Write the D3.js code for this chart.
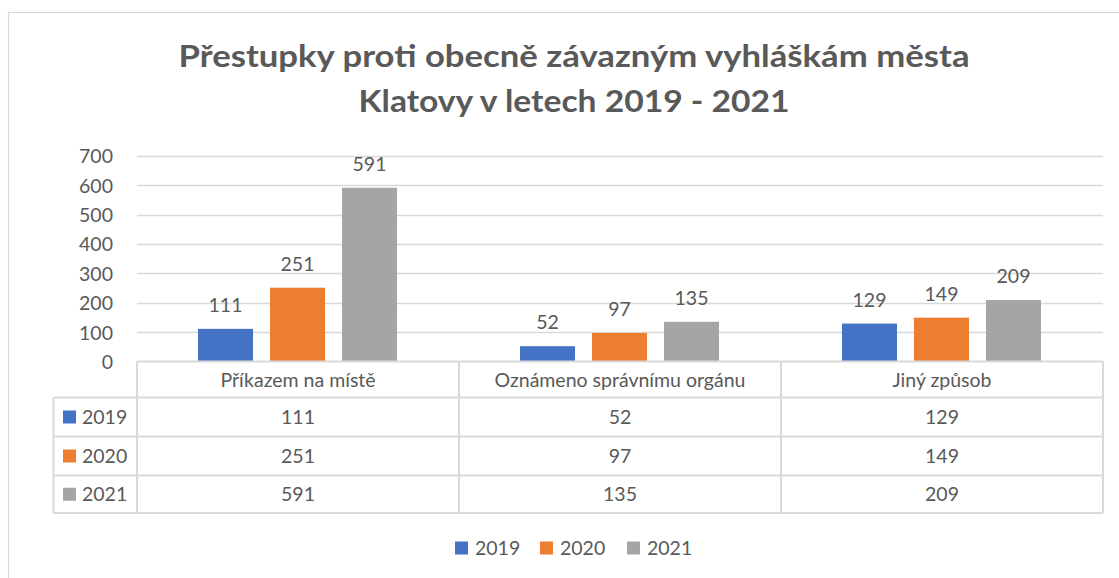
<!DOCTYPE html>
<html><head><meta charset="utf-8">
<script src="https://cdn.jsdelivr.net/npm/d3@7"></script>
<style>html,body{margin:0;padding:0;background:#fff;}svg{display:block;font-family:Lato,"Open Sans",sans-serif;}</style>
</head><body>
<svg id="c" width="1119" height="578"></svg>
<script>
const categories = ["Příkazem na místě", "Oznámeno správnímu orgánu", "Jiný způsob"];
const seriesNames = ["2019", "2020", "2021"];
const values2019 = [111, 52, 129];
const values2020 = [251, 97, 149];
const values2021 = [591, 135, 209];
const yTicks = [0, 100, 200, 300, 400, 500, 600, 700];
const titleLines = ["Přestupky proti obecně závazným vyhláškám města", "Klatovy v letech 2019 - 2021"];
const colors = ["#4472C4", "#ED7D31", "#A5A5A5"];

const series = seriesNames.map((n, i) => ({name: n, values: [values2019, values2020, values2021][i], color: colors[i]}));
const textColor = "#595959", lineColor = "#D9D9D9", fs = 19.5;

const svg = d3.select("#c");
// chart frame (cropped at right/bottom)
svg.append("rect").attr("x", 8.5).attr("y", 12.5).attr("width", 1200).attr("height", 700)
  .attr("fill", "#fff").attr("stroke", lineColor).attr("stroke-width", 1.2);

// title
const titleW = [791, 431];
const title = svg.append("text").attr("text-anchor", "middle").attr("fill", textColor)
  .attr("font-weight", "bold").attr("font-size", 29.5);
title.selectAll("tspan").data(titleLines).join("tspan")
  .attr("x", 574).attr("y", (d, i) => i === 0 ? 67 : 111.5)
  .attr("textLength", (d, i) => titleW[i]).attr("lengthAdjust", "spacingAndGlyphs").text(d => d);

const x0 = 137, x1 = 1103;
const y = d3.scaleLinear().domain([0, 700]).range([361.5, 155.7]);
const xCat = d3.scaleBand().domain(categories).range([x0, x1]).padding(0);
const cw = xCat.bandwidth();
const xSer = d3.scaleBand().domain(seriesNames).range([61, cw - 62]).paddingInner(0.236).paddingOuter(0);

// gridlines
svg.append("g").selectAll("line").data(yTicks.filter(t => t > 0)).join("line")
  .attr("x1", x0).attr("x2", x1).attr("y1", d => Math.round(y(d)) + 0.5).attr("y2", d => Math.round(y(d)) + 0.5)
  .attr("stroke", lineColor).attr("stroke-width", 1.3);

// y axis labels
const yAxis = d3.axisLeft(y).tickValues(yTicks).tickSize(0).tickPadding(0);
const ya = svg.append("g").attr("transform", "translate(113,0)").call(yAxis);
ya.select(".domain").remove();
ya.selectAll("text").attr("font-size", fs).attr("fill", textColor).attr("font-family", "Lato").attr("dy", "0.36em");

// bars
const groups = svg.append("g").selectAll("g").data(series).join("g").attr("fill", d => d.color);
groups.selectAll("rect").data(s => s.values.map((v, i) => ({v, cat: categories[i], s: s.name}))).join("rect")
  .attr("x", d => xCat(d.cat) + xSer(d.s)).attr("width", xSer.bandwidth())
  .attr("y", d => y(d.v)).attr("height", d => y(0) - y(d.v));
// bar labels
svg.append("g").selectAll("g").data(series).join("g")
  .selectAll("text").data(s => s.values.map((v, i) => ({v, cat: categories[i], s: s.name}))).join("text")
  .attr("x", d => xCat(d.cat) + xSer(d.s) + xSer.bandwidth() / 2).attr("y", d => y(d.v) - 17)
  .attr("text-anchor", "middle").attr("font-size", fs).attr("fill", textColor).text(d => d.v);

// data table
const rowY = [361.5, 397.5, 436.5, 475.5, 513];
const legX = 53.5;
const t = svg.append("g").attr("stroke", lineColor).attr("stroke-width", 2);
t.append("line").attr("x1", x0).attr("x2", x1).attr("y1", rowY[0]).attr("y2", rowY[0]);
rowY.slice(1).forEach(ry => t.append("line").attr("x1", legX).attr("x2", x1).attr("y1", ry).attr("y2", ry));
t.append("line").attr("x1", legX).attr("x2", legX).attr("y1", rowY[1]).attr("y2", rowY[4]);
[x0, ...categories.map(c => xCat(c) + cw)].forEach(xx =>
  t.append("line").attr("x1", xx).attr("x2", xx).attr("y1", rowY[0]).attr("y2", rowY[4]));

// header
svg.append("g").selectAll("text").data(categories).join("text")
  .attr("x", d => xCat(d) + cw / 2).attr("y", (rowY[0] + rowY[1]) / 2).attr("dy", "0.36em")
  .attr("text-anchor", "middle").attr("font-size", fs).attr("fill", textColor).text(d => d);
// rows
series.forEach((s, si) => {
  const cy = (rowY[si + 1] + rowY[si + 2]) / 2;
  svg.append("rect").attr("x", 63).attr("y", cy - 6.5).attr("width", 13).attr("height", 13).attr("fill", s.color);
  svg.append("text").attr("x", 82).attr("y", cy).attr("dy", "0.36em").attr("font-size", fs).attr("fill", textColor).text(s.name);
  svg.append("g").selectAll("text").data(s.values).join("text")
    .attr("x", (d, i) => xCat(categories[i]) + cw / 2).attr("y", cy).attr("dy", "0.36em")
    .attr("text-anchor", "middle").attr("font-size", fs).attr("fill", textColor).text(d => d);
});

// legend
const legXs = [455, 540, 627];
const lg = svg.append("g").selectAll("g").data(series).join("g")
  .attr("transform", (d, i) => `translate(${legXs[i]},548)`);
lg.append("rect").attr("x", 0).attr("y", -6.5).attr("width", 13).attr("height", 13).attr("fill", d => d.color);
lg.append("text").attr("x", 20).attr("y", 0).attr("dy", "0.36em").attr("font-size", fs).attr("fill", textColor).text(d => d.name);
</script>
</body></html>
